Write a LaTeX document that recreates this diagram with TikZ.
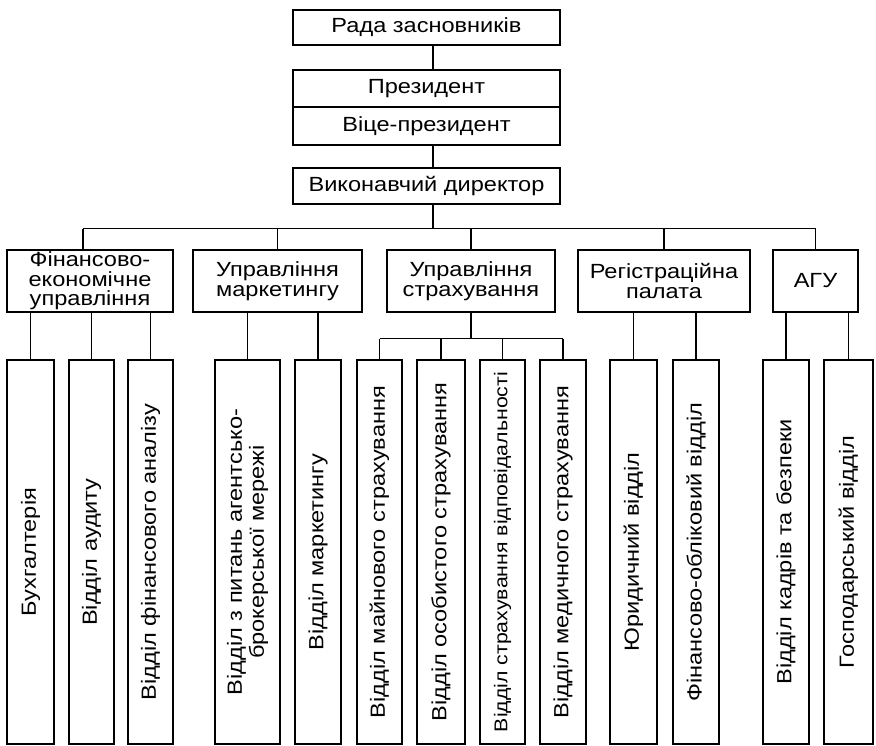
\documentclass[tikz,border=0pt]{standalone}
\usepackage{fontspec}
\setmainfont{Liberation Sans}[FakeStretch=1.15]
\usepackage{tikz}
\tikzset{
  box/.style      = { draw, line width=1.5pt, inner sep=0pt, align=center,
                      font=\fontsize{20.5}{19.5}\selectfont },
  topbox/.style   = { box, minimum width=267pt, minimum height=36pt },
  unitbox/.style  = { box, minimum height=62pt, minimum width=#1 },
  deptbox/.style  = { box, rotate=90, minimum width=384pt, minimum height=#1 },
  link/.style     = { line width=1.3pt }
}

\begin{document}
\begin{tikzpicture}[x=1pt, y=-1pt]
\useasboundingbox (0,0) rectangle (876,746);
% management
\node[topbox, minimum height=35pt] (rada)  at (426.5,27.5) {Рада засновників};
\node[topbox, minimum height=37pt] (prez)  at (426.5,88.5) {Президент};
\node[topbox, minimum height=38pt] (vice)  at (426.5,126)  {Віце-президент};
\node[topbox] (exec)  at (426.5,186) {Виконавчий директор};
\coordinate (axis) at (433,0);
\coordinate (finaxis) at (83,0);
% units
\node[unitbox=166pt] (fin)    at (90,281)    {Фінансово-\\економічне\\управління};
\node[unitbox=169pt] (mark)   at (277.5,281) {Управління\\маркетингу};
\node[unitbox=168pt] (strakh) at (471,281)   {Управління\\страхування};
\node[unitbox=172pt] (reg)    at (664,281)   {Регістраційна\\палата};
\node[unitbox=85pt]  (agu)    at (815.5,281) {АГУ};
% departments
\node[deptbox=47pt] (buh)   at (30.5,552)  {Бухгалтерія};
\node[deptbox=45pt] (aud)   at (91.5,552)  {Відділ аудиту};
\node[deptbox=45pt] (fanal) at (150.5,552) {Відділ фінансового аналізу};
\node[deptbox=65pt, font=\fontsize{20.5}{22}\selectfont] (agent) at (247.5,552)
  {Відділ з питань агентсько-\\брокерської мережі};
\node[deptbox=46pt] (vmark) at (318,552)   {Відділ маркетингу};
\node[deptbox=45pt] (main)  at (379.5,552) {Відділ майнового страхування};
\node[deptbox=48pt] (osob)  at (441,552)   {Відділ особистого страхування};
\node[deptbox=45pt, font=\fontsize{18.5}{18.5}\selectfont] (vidp) at (502.5,552)
  {Відділ страхування відповідальності};
\node[deptbox=46pt] (med)   at (563,552)   {Відділ медичного страхування};
\node[deptbox=47pt] (yur)   at (633.5,552) {Юридичний відділ};
\node[deptbox=46pt] (fobl)  at (696,552)   {Фінансово-обліковий відділ};
\node[deptbox=46pt] (kadr)  at (786,552)   {Відділ кадрів та безпеки};
\node[deptbox=49pt] (gosp)  at (848.5,552) {Господарський відділ};

% connections
\draw[link] (rada.south -| axis) -- (prez.north -| axis);
\draw[link] (vice.south -| axis) -- (exec.north -| axis);
\draw[link] (exec.south -| axis) -- ++(0,24) coordinate (bus);
\draw[link] (bus -| finaxis) -- (bus -| agu.north);
\draw[link] (bus -| finaxis) -- (fin.north -| finaxis);
\foreach \u in {mark,strakh,reg,agu}
  \draw[link] (bus -| \u.north) -- (\u.north);
\foreach \d/\u in {buh/fin,aud/fin,fanal/fin,agent/mark,vmark/mark,
                   yur/reg,fobl/reg,kadr/agu,gosp/agu}
  \draw[link] (\d.east |- \u.south) -- (\d.east);
\draw[link] (strakh.south) -- ++(0,26) coordinate (sbus);
\draw[link] (sbus -| main.east) -- (sbus -| med.east);
\foreach \d in {main,osob,vidp,med}
  \draw[link] (sbus -| \d.east) -- (\d.east);
\end{tikzpicture}
\end{document}
